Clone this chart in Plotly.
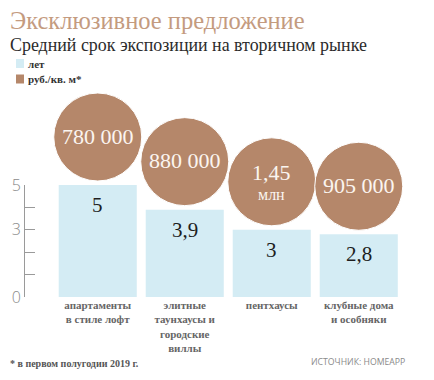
import plotly.graph_objects as go

# ---- data ----
categories = ["апартаменты<br>в стиле лофт",
              "элитные<br>таунхаусы и<br>городские<br>виллы",
              "пентхаусы",
              "клубные дома<br>и особняки"]
years = [5, 3.9, 3, 2.8]
year_labels = ["5", "3,9", "3", "2,8"]
price_labels = ["780 000", "880 000", "1,45", "905 000"]
price_units = ["", "", "млн", ""]
y_tickvals = [0, 1, 2, 3, 4, 5]
y_ticktext = ["0", "", "", "3", "", "5"]

title = "Эксклюзивное предложение"
subtitle = "Средний срок экспозиции на вторичном рынке"
legend_labels = ["лет", "руб./кв. м*"]
footnote = "* в первом полугодии 2019 г."
source = "ИСТОЧНИК: HOMEAPP"

# ---- style ----
W, H = 434, 380
L, R, T, B = 25, 410, 85, 297   # plot area (pixels)
Y5 = 185                         # pixel of value 5 on the visible axis
BLUE = "#d4ecf4"
BROWN = "#b5876a"
SERIF = "Liberation Serif"
unit_px = (B - Y5) / 5.0
dom_top = (B - Y5) / (B - T)
circle_d = 88
circle_gap_px = 4
circle_off = (circle_gap_px + circle_d / 2) / unit_px


def px(x):
    return (x - L) / (R - L)


def py(y):
    return (B - y) / (B - T)


idx = list(range(len(categories)))
circle_y = [v + circle_off for v in years]

fig = go.Figure()
fig.add_trace(go.Bar(x=idx, y=years, marker=dict(color=BLUE, line=dict(width=0)),
                     hoverinfo="skip", showlegend=False, yaxis="y"))
fig.add_trace(go.Scatter(x=idx, y=circle_y, mode="markers",
                         marker=dict(size=circle_d, color=BROWN, line=dict(color="white", width=1)),
                         cliponaxis=False, hoverinfo="skip", showlegend=False, yaxis="y2"))

annotations = []
for i, (v, t) in enumerate(zip(years, year_labels)):
    annotations.append(dict(x=i, y=v, yshift=-20, text=t, showarrow=False,
                            font=dict(family=SERIF, size=21, color="#1e1e1e"),
                            xanchor="center", yanchor="middle"))
for i, (cy, t, u) in enumerate(zip(circle_y, price_labels, price_units)):
    annotations.append(dict(x=i, y=cy, yref="y2", yshift=9 if u else 1, text=t, showarrow=False,
                            font=dict(family=SERIF, size=22, color="#fbf5f0"),
                            xanchor="center", yanchor="middle"))
    if u:
        annotations.append(dict(x=i, y=cy, yref="y2", yshift=-13, text=u, showarrow=False,
                                font=dict(family=SERIF, size=16, color="#fbf5f0"),
                                xanchor="center", yanchor="middle"))

annotations += [
    dict(x=px(8), y=py(20), xref="paper", yref="paper", text=title, showarrow=False,
         xanchor="left", yanchor="middle", font=dict(family=SERIF, size=24.5, color="#c49b7f")),
    dict(x=px(8), y=py(45), xref="paper", yref="paper", text=subtitle, showarrow=False,
         xanchor="left", yanchor="middle", font=dict(family=SERIF, size=17.9, color="#2b2b2b")),
    dict(x=px(26), y=py(63.5), xref="paper", yref="paper", text="<b>" + legend_labels[0] + "</b>",
         showarrow=False, xanchor="left", yanchor="middle",
         font=dict(family=SERIF, size=11, color="#333333")),
    dict(x=px(26), y=py(79), xref="paper", yref="paper", text="<b>" + legend_labels[1] + "</b>",
         showarrow=False, xanchor="left", yanchor="middle",
         font=dict(family=SERIF, size=11, color="#333333")),
    dict(x=px(8), y=py(363), xref="paper", yref="paper", text="<b>" + footnote + "</b>",
         showarrow=False, xanchor="left", yanchor="middle",
         font=dict(family=SERIF, size=10, color="#555555")),
    dict(x=px(407), y=py(362), xref="paper", yref="paper", text=source,
         showarrow=False, xanchor="right", yanchor="middle",
         font=dict(family="Open Sans", size=8.7, color="#8a8a8a")),
]

shapes = [
    dict(type="rect", xref="paper", yref="paper", x0=px(16), x1=px(24), y0=py(59), y1=py(68),
         fillcolor=BLUE, line=dict(width=0)),
    dict(type="rect", xref="paper", yref="paper", x0=px(16), x1=px(24), y0=py(74.5), y1=py(83.5),
         fillcolor=BROWN, line=dict(width=0)),
]

fig.update_layout(
    width=W, height=H,
    margin=dict(l=L, r=W - R, t=T, b=H - B, pad=0, autoexpand=False),
    paper_bgcolor="white", plot_bgcolor="rgba(0,0,0,0)",
    bargap=0.103,
    showlegend=False,
    annotations=annotations,
    shapes=shapes,
    xaxis=dict(range=[-0.836, 3.589], tickvals=idx, ticktext=categories, automargin=False,
               showgrid=False, zeroline=False, showline=False, ticks="",
               ticklabelstandoff=0,
               tickfont=dict(family=SERIF, size=11, color="#666666", weight="bold")),
    yaxis=dict(domain=[0, dom_top], range=[0, 5], tickvals=y_tickvals, ticktext=y_ticktext,
               automargin=False,
               showgrid=False, zeroline=False, showline=True, linecolor="#9a9a9a", linewidth=1,
               ticks="inside", ticklen=10, tickcolor="#9a9a9a", tickwidth=1,
               tickfont=dict(family="Open Sans", size=16, color="#8a8a8a", weight=300)),
    yaxis2=dict(domain=[0, 1], range=[0, 5 / dom_top], anchor="x", visible=False,
                showgrid=False, zeroline=False, automargin=False),
)

fig.write_html("out.html", config={"displayModeBar": False, "staticPlot": True},
               post_script="document.body.style.margin='0px';")
